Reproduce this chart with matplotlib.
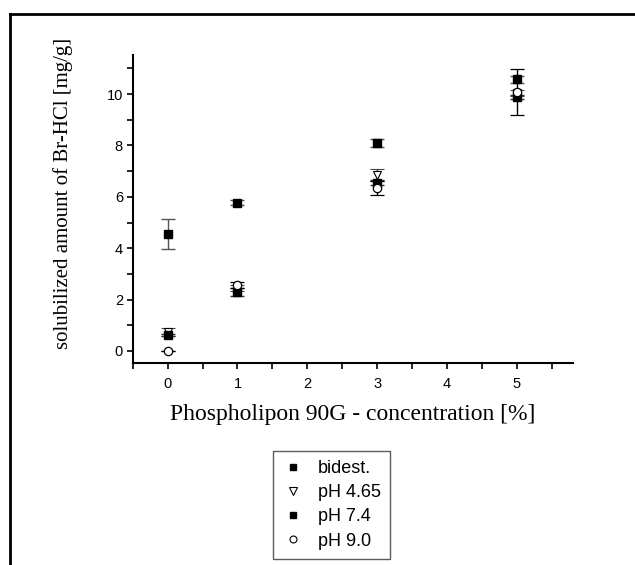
import matplotlib
matplotlib.use("Agg")
import matplotlib.pyplot as plt
from matplotlib.lines import Line2D
from matplotlib.ticker import MultipleLocator

conc = [0, 1, 3, 5]
labels = ["bidest.", "pH 4.65", "pH 7.4", "pH 9.0"]
bidest = [4.55, 5.78, 8.09, 10.58]
bidest_err = [0.58, 0.10, 0.16, 0.13]
ph465 = [0.73, 2.45, 6.85, 10.05]
ph465_err = [0.15, 0.12, 0.24, 0.12]
ph74 = [0.62, 2.30, 6.55, 9.90]
ph74_err = [0.05, 0.17, 0.10, 0.08]
ph90 = [0.00, 2.57, 6.35, 10.08]
ph90_err = [0.00, 0.13, 0.27, 0.90]

series = [
    (bidest, bidest_err, dict(marker="s", mfc="black", mec="black", ms=5.5), "#555555"),
    (ph465, ph465_err, dict(marker="v", mfc="white", mec="black", ms=6, mew=0.8), "#444444"),
    (ph74, ph74_err, dict(marker="s", mfc="black", mec="black", ms=5.5), "#333333"),
    (ph90, ph90_err, dict(marker="o", mfc="white", mec="black", ms=6, mew=0.9), "black"),
]

fig = plt.figure(figsize=(6.35, 5.65), dpi=100)
ax = fig.add_axes([0.209, 0.357, 0.693, 0.546])

for vals, errs, mk, ecol in series:
    ax.errorbar(conc, vals, yerr=errs, linestyle="none", ecolor=ecol,
                elinewidth=1.0, capsize=5, capthick=1.0, zorder=3, **mk)

ax.set_xlim(-0.5, 5.8)
ax.set_ylim(-0.48, 11.53)
ax.xaxis.set_major_locator(MultipleLocator(1))
ax.xaxis.set_minor_locator(MultipleLocator(0.5))
ax.yaxis.set_major_locator(MultipleLocator(2))
ax.yaxis.set_minor_locator(MultipleLocator(1))
for s in ["top", "right"]:
    ax.spines[s].set_visible(False)
for s in ["left", "bottom"]:
    ax.spines[s].set_linewidth(1.5)
ax.tick_params(which="major", direction="out", length=4, width=1.2, labelsize=10.5)
ax.tick_params(which="minor", direction="out", length=4, width=1.2)
ax.tick_params(axis="x", which="major", pad=6)
ax.tick_params(axis="y", which="major", pad=3)
for t in ax.get_xticklabels() + ax.get_yticklabels():
    t.set_family("Liberation Sans")

ax.set_xlabel("Phospholipon 90G - concentration [%]", family="Liberation Serif",
              fontsize=17, labelpad=9)
ax.set_ylabel("solubilized amount of Br-HCl [mg/g]", family="Liberation Serif",
              fontsize=15)
ax.yaxis.set_label_coords(-0.136, 0.55)

handles = [
    Line2D([], [], linestyle="none", marker="s", mfc="black", mec="black", ms=5),
    Line2D([], [], linestyle="none", marker="v", mfc="white", mec="black", ms=5.5, mew=0.8),
    Line2D([], [], linestyle="none", marker="s", mfc="black", mec="black", ms=5),
    Line2D([], [], linestyle="none", marker="o", mfc="white", mec="black", ms=5, mew=0.8),
]
leg = fig.legend(handles, labels, loc="upper left", bbox_to_anchor=(273 / 635, 1 - 451 / 565),
                 prop={"family": "Liberation Sans", "size": 13}, frameon=True,
                 fancybox=False, edgecolor="#333333", labelspacing=0.4,
                 handlelength=1.2, handletextpad=0.8, borderpad=0.5, borderaxespad=0)
leg.get_frame().set_linewidth(1.0)

# figure border lines (top and left)
fig.add_artist(Line2D([10 / 635, 1.0], [1 - 14 / 565, 1 - 14 / 565], color="black",
                      lw=2, transform=fig.transFigure))
fig.add_artist(Line2D([10 / 635, 10 / 635], [0, 1 - 14 / 565], color="black",
                      lw=2, transform=fig.transFigure))

fig.savefig("out.png", dpi=100)
